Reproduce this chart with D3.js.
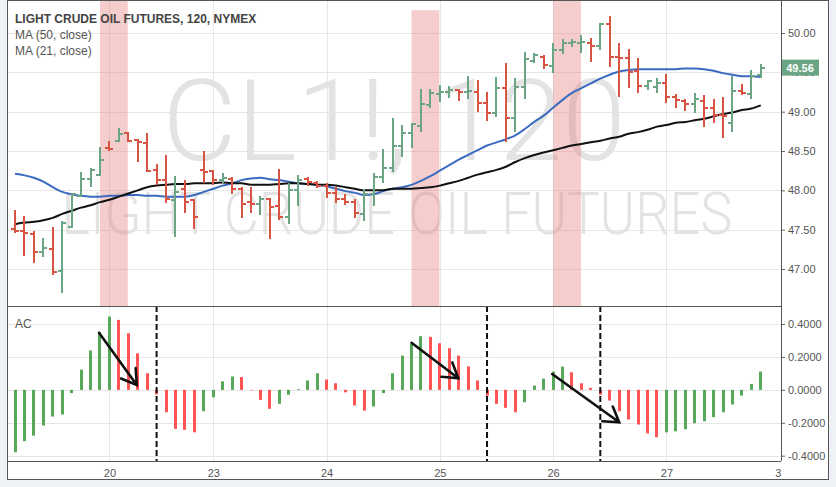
<!DOCTYPE html>
<html>
<head>
<meta charset="utf-8">
<script src="https://cdn.jsdelivr.net/npm/d3@7"></script>
<style>
    body { margin: 0; background: #eef1f5; }
    svg { display: block; font-family: "Liberation Sans", Arial, sans-serif; }
</style>
</head>
<body>
<svg width="836" height="487"></svg>
<script>
// CL1! 120 minute bars
const openP = [47.51, 47.48, 47.45, 47.22, 47.26, 46.98, 47.53, 47.93, 48.14, 48.20,
    48.54, 48.63, 48.73, 48.64, 48.60, 48.26, 48.13, 47.88, 48.02, 47.88,
    48.26, 48.25, 48.13, 48.14, 48.02, 47.85, 47.83, 47.89, 47.80, 47.66,
    48.00, 48.14, 48.09, 48.06, 47.97, 47.89, 47.85, 47.70, 47.95, 48.17,
    48.28, 48.56, 48.73, 48.82, 49.09, 49.22, 49.25, 49.28, 49.25, 49.25,
    49.11, 48.98, 49.30, 48.92, 49.31, 49.64, 49.70, 49.58, 49.78, 49.87,
    49.87, 49.87, 49.84, 50.11, 49.70, 49.68, 49.52, 49.33, 49.31, 49.36,
    49.19, 49.14, 49.10, 49.14, 49.05, 48.96, 48.86, 49.26, 49.23, 49.47];
const highP = [47.75, 47.67, 47.48, 47.39, 47.53, 47.61, 47.97, 48.23, 48.28, 48.55,
    48.63, 48.79, 48.74, 48.65, 48.73, 48.34, 48.45, 48.18, 48.13, 47.89,
    48.50, 48.26, 48.22, 48.17, 48.04, 48.04, 47.93, 47.90, 48.27, 48.09,
    48.20, 48.17, 48.12, 48.09, 48.04, 47.95, 47.89, 48.02, 48.22, 48.53,
    48.92, 48.83, 48.86, 49.29, 49.29, 49.34, 49.33, 49.29, 49.45, 49.40,
    49.25, 49.44, 49.62, 49.43, 49.76, 49.75, 49.72, 49.87, 49.92, 49.92,
    49.97, 49.94, 50.13, 50.22, 49.87, 49.80, 49.68, 49.40, 49.43, 49.48,
    49.22, 49.16, 49.24, 49.21, 49.16, 49.19, 49.45, 49.35, 49.53, 49.61];
const lowP = [47.46, 47.17, 47.08, 47.15, 46.92, 46.70, 47.52, 47.92, 48.04, 48.18,
    48.50, 48.61, 48.61, 48.36, 48.23, 48.07, 47.84, 47.41, 47.71, 47.51,
    48.09, 48.07, 48.09, 47.95, 47.65, 47.71, 47.69, 47.38, 47.62, 47.57,
    47.80, 48.06, 48.03, 47.90, 47.84, 47.81, 47.65, 47.61, 47.80, 48.09,
    48.23, 48.42, 48.54, 48.74, 49.05, 49.12, 49.17, 49.14, 49.16, 49.00,
    48.88, 48.93, 48.61, 48.74, 49.16, 49.62, 49.54, 49.49, 49.73, 49.82,
    49.75, 49.63, 49.78, 49.57, 49.19, 49.30, 49.24, 49.28, 49.24, 49.11,
    49.05, 49.01, 48.98, 48.81, 48.86, 48.67, 48.74, 49.21, 49.16, 49.43];
const closeP = [47.48, 47.46, 47.22, 47.27, 46.96, 47.59, 47.95, 48.14, 48.26, 48.39,
    48.53, 48.72, 48.63, 48.61, 48.25, 48.13, 47.89, 47.98, 47.85, 47.66,
    48.23, 48.13, 48.16, 48.02, 47.83, 47.82, 47.89, 47.79, 47.66, 48.00,
    48.13, 48.11, 48.06, 47.97, 47.89, 47.85, 47.71, 47.95, 48.17, 48.28,
    48.56, 48.73, 48.84, 49.10, 49.24, 49.25, 49.28, 49.25, 49.26, 49.11,
    48.98, 49.30, 48.92, 49.31, 49.67, 49.72, 49.59, 49.78, 49.87, 49.89,
    49.89, 49.84, 50.11, 49.70, 49.68, 49.50, 49.33, 49.39, 49.36, 49.19,
    49.15, 49.10, 49.16, 49.05, 48.96, 48.95, 49.26, 49.24, 49.45, 49.56];

const ma50 = [48.21, 48.19, 48.16, 48.11, 48.04, 47.98, 47.95, 47.93, 47.92, 47.92,
    47.93, 47.93, 47.94, 47.94, 47.93, 47.93, 47.92, 47.92, 47.92, 47.94,
    47.98, 48.02, 48.06, 48.09, 48.13, 48.15, 48.16, 48.14, 48.13, 48.11,
    48.09, 48.08, 48.07, 48.05, 48.02, 47.99, 47.97, 47.94, 47.95, 47.99,
    48.02, 48.04, 48.07, 48.12, 48.18, 48.25, 48.32, 48.39, 48.45, 48.51,
    48.57, 48.61, 48.65, 48.70, 48.78, 48.87, 48.95, 49.05, 49.15, 49.24,
    49.30, 49.36, 49.42, 49.47, 49.51, 49.53, 49.54, 49.54, 49.54, 49.54,
    49.54, 49.55, 49.55, 49.54, 49.52, 49.49, 49.47, 49.45, 49.45, 49.44];
const ma21 = [47.57, 47.59, 47.60, 47.62, 47.65, 47.70, 47.74, 47.78, 47.81, 47.85,
    47.88, 47.92, 47.96, 48.00, 48.04, 48.06, 48.07, 48.08, 48.08, 48.09,
    48.09, 48.09, 48.10, 48.09, 48.09, 48.07, 48.07, 48.07, 48.08, 48.09,
    48.09, 48.08, 48.07, 48.07, 48.06, 48.04, 48.02, 48.00, 48.00, 48.00,
    48.02, 48.02, 48.02, 48.03, 48.04, 48.06, 48.09, 48.12, 48.16, 48.20,
    48.23, 48.26, 48.30, 48.36, 48.41, 48.45, 48.48, 48.51, 48.54, 48.57,
    48.59, 48.61, 48.63, 48.66, 48.68, 48.72, 48.74, 48.77, 48.81, 48.83,
    48.86, 48.87, 48.89, 48.91, 48.94, 48.97, 48.99, 49.02, 49.04, 49.08];

// accelerator oscillator
const acValues = [-0.379, -0.312, -0.278, -0.217, -0.162, -0.150, -0.020, 0.123, 0.239, 0.350,
    0.445, 0.425, 0.344, 0.222, 0.101, -0.028, -0.136, -0.237, -0.243, -0.258,
    -0.130, -0.045, 0.052, 0.081, 0.078, -0.003, -0.061, -0.115, -0.085, -0.030,
    0.005, 0.057, 0.101, 0.063, 0.040, -0.015, -0.095, -0.126, -0.101, -0.020,
    0.101, 0.208, 0.279, 0.326, 0.322, 0.283, 0.253, 0.208, 0.143, 0.057,
    -0.035, -0.085, -0.109, -0.136, -0.075, 0.026, 0.068, 0.111, 0.141, 0.107,
    0.040, 0.012, -0.030, -0.065, -0.130, -0.180, -0.211, -0.264, -0.288, -0.258,
    -0.252, -0.239, -0.203, -0.191, -0.166, -0.136, -0.089, -0.035, 0.036, 0.111];

const dayTicks = [10, 21, 33, 45, 57, 69, 80.8];
const dayLabels = ["20", "23", "24", "25", "26", "27", "3"];
const priceTicks = [47, 47.5, 48, 48.5, 49, 49.5, 50];
const acTicks = [-0.4, -0.2, 0, 0.2, 0.4];
const highlightBars = [9, 42, 57];
const highlightTops = [50.6, 50.29, 50.6];
const dividerBars = [15, 50, 62];
// [from bar, from AC, to bar, to AC]
const arrows = [[8.9, 0.347, 12.9, 0.03], [42.0, 0.286, 46.96, 0.07], [56.9, 0.096, 64.0, -0.197]];
const lastPrice = 49.56;

const LEFT = 7,
    RIGHT = 781,
    FRAME_RIGHT = 829,
    FRAME_BOTTOM = 480,
    PRICE_BOTTOM = 306,
    AC_BOTTOM = 461,
    UP = "#6ba583",
    DOWN = "#d75442",
    GRID = "#e6e6e6",
    TEXT = "#555";

const svg = d3.select("svg");

const x = d3.scaleLinear().domain([0, 79]).range([15, 760.8]),
    y = d3.scaleLinear().domain([47, 50]).range([269, 33]),
    yAc = d3.scaleLinear().domain([-0.4, 0.4]).range([455.7, 324]);

const defs = svg.append("defs");
defs.append("clipPath").attr("id", "clipPrice")
    .append("rect").attr("x", LEFT).attr("y", 0).attr("width", RIGHT - LEFT).attr("height", PRICE_BOTTOM);
defs.append("clipPath").attr("id", "clipAc")
    .append("rect").attr("x", LEFT).attr("y", PRICE_BOTTOM).attr("width", RIGHT - LEFT).attr("height", AC_BOTTOM - PRICE_BOTTOM);
defs.append("clipPath").attr("id", "clipAcAxis")
    .append("rect").attr("x", RIGHT).attr("y", PRICE_BOTTOM + 1).attr("width", FRAME_RIGHT - RIGHT).attr("height", AC_BOTTOM - PRICE_BOTTOM - 1);

// frame background
svg.append("rect")
    .attr("x", LEFT).attr("y", 0)
    .attr("width", FRAME_RIGHT - LEFT).attr("height", FRAME_BOTTOM)
    .attr("fill", "#fff");

// grid
const grid = svg.append("g").attr("stroke", GRID).attr("stroke-width", 1).attr("shape-rendering", "crispEdges");
grid.selectAll(".vgrid")
    .data(dayTicks.slice(0, -1))
    .enter()
    .append("line")
    .attr("x1", (d) => Math.round(x(d)) + 0.5).attr("x2", (d) => Math.round(x(d)) + 0.5)
    .attr("y1", 0).attr("y2", AC_BOTTOM);
grid.selectAll(".pgrid")
    .data(priceTicks)
    .enter()
    .append("line")
    .attr("x1", LEFT).attr("x2", RIGHT)
    .attr("y1", (d) => Math.round(y(d)) + 0.5).attr("y2", (d) => Math.round(y(d)) + 0.5);
grid.selectAll(".agrid")
    .data(acTicks)
    .enter()
    .append("line")
    .attr("x1", LEFT).attr("x2", RIGHT)
    .attr("y1", (d) => Math.round(yAc(d)) + 0.5).attr("y2", (d) => Math.round(yAc(d)) + 0.5);

// watermark, squeezed horizontally to the width it has in the screenshot
const mark = svg.append("g")
    .attr("clip-path", "url(#clipPrice)")
    .attr("fill", "#e3e3e3")
    .attr("font-family", "Roboto, \"Liberation Sans\", sans-serif")
    .attr("font-weight", 300)
    .attr("text-anchor", "middle");
const fitText = (txt, cx, baseline, size, width) => {
    const t = mark.append("text")
        .attr("font-size", size)
        .text(txt);
    const k = width / t.node().getComputedTextLength();
    t.attr("transform", `translate(${cx},${baseline}) scale(${k},1)`);
};
fitText("CL1!, 120", 394, 160, 114, 463);
fitText("LIGHT CRUDE OIL FUTURES", 397, 234, 60, 671);

// highlighted sessions
svg.append("g")
    .attr("clip-path", "url(#clipPrice)")
    .selectAll("rect")
    .data(highlightBars)
    .enter()
    .append("rect")
    .attr("x", (d) => x(d))
    .attr("width", (d) => x(d + 3) - x(d) - 0.5)
    .attr("y", (d, i) => y(highlightTops[i]))
    .attr("height", (d, i) => PRICE_BOTTOM - y(highlightTops[i]))
    .attr("fill", "rgba(232,130,130,0.4)");

// moving averages
const maLine = (vals) => d3.line().x((d, i) => x(i)).y((d) => y(d)).curve(d3.curveMonotoneX)(vals);
const price = svg.append("g").attr("clip-path", "url(#clipPrice)");
price.append("path").attr("d", maLine(ma50))
    .attr("fill", "none").attr("stroke", "#3a6bc1").attr("stroke-width", 2);
price.append("path").attr("d", maLine(ma21))
    .attr("fill", "none").attr("stroke", "#111").attr("stroke-width", 2);

// OHLC bars, snapped to whole pixels so the 2px strokes stay sharp
price.selectAll(".bar")
    .data(openP)
    .enter()
    .append("path")
    .attr("class", "bar")
    .attr("fill", "none")
    .attr("stroke-width", 2)
    .attr("stroke", (d, i) => (closeP[i] >= d ? UP : DOWN))
    .attr("d", (d, i) => {
        const cx = Math.round(x(i)),
            yo = Math.round(y(d)),
            yc = Math.round(y(closeP[i]));
        return `M${cx},${Math.round(y(highP[i]))}V${Math.round(y(lowP[i]))}` +
            `M${cx - 4},${yo}H${cx}` +
            `M${cx},${yc}H${cx + 4}`;
    });

// legend
const legend = svg.append("g").attr("font-size", 12).attr("fill", TEXT);
legend.append("text").attr("x", 15).attr("y", 22.5)
    .attr("font-weight", "bold").attr("fill", "#444")
    .text("LIGHT CRUDE OIL FUTURES, 120, NYMEX");
legend.append("text").attr("x", 15).attr("y", 38.5).text("MA (50, close)");
legend.append("text").attr("x", 15).attr("y", 54.5).text("MA (21, close)");

// AC histogram
const ac = svg.append("g").attr("clip-path", "url(#clipAc)");
ac.selectAll(".ac")
    .data(acValues)
    .enter()
    .append("rect")
    .attr("x", (d, i) => Math.round(x(i) - 1.5))
    .attr("width", 3)
    .attr("y", (d) => Math.min(yAc(d), yAc(0)))
    .attr("height", (d) => Math.abs(yAc(d) - yAc(0)))
    .attr("fill", (d, i) => (i === 0 || d >= acValues[i - 1] ? "#58a85a" : "#ff5454"));

ac.selectAll(".divider")
    .data(dividerBars)
    .enter()
    .append("line")
    .attr("x1", (d) => x(d)).attr("x2", (d) => x(d))
    .attr("y1", PRICE_BOTTOM).attr("y2", AC_BOTTOM)
    .attr("stroke", "#111").attr("stroke-width", 2)
    .attr("stroke-dasharray", "6,3");

const arrowG = ac.append("g")
    .attr("stroke", "#111").attr("stroke-width", 2.6)
    .attr("fill", "none").attr("stroke-linecap", "round");
arrows.forEach(([i0, v0, i1, v1]) => {
    const x0 = x(i0), y0 = yAc(v0), x1 = x(i1), y1 = yAc(v1),
        back = Math.atan2(y0 - y1, x0 - x1),
        head = 17,
        spread = Math.PI / 5.6;
    arrowG.append("path")
        .attr("d", `M${x0},${y0}L${x1},${y1}` +
            `M${x1 + head * Math.cos(back + spread)},${y1 + head * Math.sin(back + spread)}L${x1},${y1}` +
            `L${x1 + head * Math.cos(back - spread)},${y1 + head * Math.sin(back - spread)}`);
});

svg.append("text").attr("x", 15).attr("y", 328)
    .attr("font-size", 12).attr("fill", TEXT).text("AC");

// axes
const priceAxis = svg.append("g")
    .attr("transform", `translate(${RIGHT},0)`)
    .call(d3.axisRight(y).tickValues(priceTicks).tickFormat((d) => d.toFixed(2)).tickSize(4).tickPadding(3));
const acAxis = svg.append("g")
    .attr("clip-path", "url(#clipAcAxis)")
    .append("g")
    .attr("transform", `translate(${RIGHT},0)`)
    .call(d3.axisRight(yAc).tickValues(acTicks).tickFormat((d) => d.toFixed(4)).tickSize(4).tickPadding(3));
const timeAxis = svg.append("g")
    .attr("transform", `translate(0,${AC_BOTTOM})`)
    .call(d3.axisBottom(x).tickValues(dayTicks).tickFormat((d, i) => dayLabels[i]).tickSize(0).tickPadding(8));

[priceAxis, acAxis, timeAxis].forEach((g) => {
    g.select(".domain").remove();
    g.selectAll("line").attr("stroke", "#666");
    g.selectAll("text")
        .attr("fill", TEXT)
        .attr("font-size", 11)
        .attr("font-family", "\"Liberation Sans\", Arial, sans-serif");
});

// last price label
const lastY = y(lastPrice);
svg.append("rect")
    .attr("x", RIGHT).attr("y", lastY - 8)
    .attr("width", 38).attr("height", 16)
    .attr("fill", UP);
svg.append("text")
    .attr("x", RIGHT + 19).attr("y", lastY + 4)
    .attr("text-anchor", "middle")
    .attr("font-size", 11).attr("font-weight", "bold")
    .attr("fill", "#fff")
    .text(lastPrice.toFixed(2));

// panel borders
const border = svg.append("g").attr("stroke", "#555").attr("stroke-width", 1)
    .attr("fill", "none").attr("shape-rendering", "crispEdges");
border.append("rect")
    .attr("x", LEFT + 0.5).attr("y", 0.5)
    .attr("width", FRAME_RIGHT - LEFT - 1).attr("height", FRAME_BOTTOM - 1);
border.append("line").attr("x1", RIGHT + 0.5).attr("x2", RIGHT + 0.5).attr("y1", 0).attr("y2", AC_BOTTOM);
border.append("line").attr("x1", LEFT).attr("x2", RIGHT).attr("y1", PRICE_BOTTOM + 0.5).attr("y2", PRICE_BOTTOM + 0.5);
border.append("line").attr("x1", LEFT).attr("x2", RIGHT).attr("y1", AC_BOTTOM + 0.5).attr("y2", AC_BOTTOM + 0.5);
</script>
</body>
</html>
